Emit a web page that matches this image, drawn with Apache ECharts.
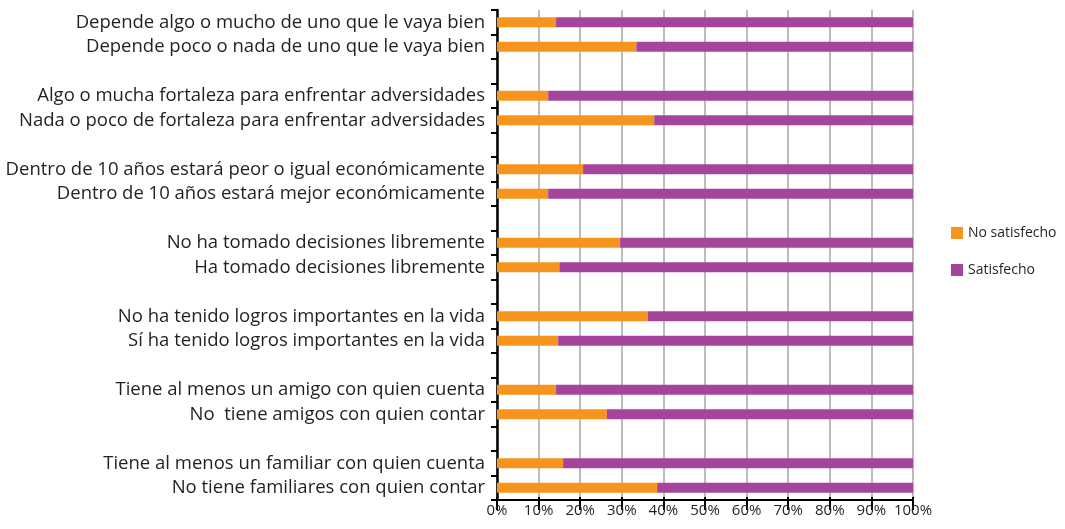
<!DOCTYPE html>
<html lang="es">
<head>
    <meta charset="UTF-8">
    <title>Satisfacción</title>
    <script src="https://cdn.jsdelivr.net/npm/echarts@6/dist/echarts.min.js"></script>
    <style>
        body { margin: 0; background: #fff; }
        #main { width: 1065px; height: 529px; }
    </style>
</head>
<body>
<div id="main"></div>
<script>
    // categorias (de arriba hacia abajo), '' = hueco entre grupos
    var categorias = [
        'Depende algo o mucho de uno que le vaya bien',
        'Depende poco o nada de uno que le vaya bien',
        '',
        'Algo o mucha fortaleza para enfrentar adversidades',
        'Nada o poco de fortaleza para enfrentar adversidades',
        '',
        'Dentro de 10 años estará peor o igual económicamente',
        'Dentro de 10 años estará mejor económicamente',
        '',
        'No ha tomado decisiones libremente',
        'Ha tomado decisiones libremente',
        '',
        'No ha tenido logros importantes en la vida',
        'Sí ha tenido logros importantes en la vida',
        '',
        'Tiene al menos un amigo con quien cuenta',
        'No  tiene amigos con quien contar',
        '',
        'Tiene al menos un familiar con quien cuenta',
        'No tiene familiares con quien contar'
    ];
    var noSatisfecho = [14.2, 33.5, null, 12.3, 37.8, null, 20.7, 12.3, null,
        29.6, 15.0, null, 36.2, 14.7, null, 14.2, 26.4, null, 15.9, 38.5];
    var satisfecho = noSatisfecho.map(function (v) { return v == null ? null : 100 - v; });
    var ticksX = [0, 10, 20, 30, 40, 50, 60, 70, 80, 90, 100];

    var myChart = echarts.init(document.getElementById('main'));
    var option = {
        animation: false,
        textStyle: { fontFamily: 'Open Sans' },
        legend: {
            orient: 'vertical',
            left: 946,
            top: 221,
            itemWidth: 12,
            itemHeight: 12,
            itemGap: 23,
            icon: 'rect',
            textStyle: { fontSize: 14, color: '#231f20' },
            data: ['No satisfecho', 'Satisfecho']
        },
        grid: { left: 497, right: 152, top: 10, bottom: 29, containLabel: false },
        xAxis: [{
            type: 'value',
            min: 0,
            max: 100,
            interval: 10,
            axisLine: { show: true, lineStyle: { color: '#000', width: 2 } },
            axisTick: { show: true, length: 10, lineStyle: { color: '#000', width: 2 } },
            axisLabel: {
                fontSize: 15, color: '#231f20', margin: 3,
                formatter: function (v) { return ticksX.indexOf(v) >= 0 ? v + '%' : ''; }
            },
            splitLine: { show: true, lineStyle: { color: '#a6a6a6', width: 1.5 } }
        }, {
            type: 'value',
            position: 'bottom',
            min: 0,
            max: 100,
            interval: 10,
            axisLine: { show: false },
            axisTick: { show: true, inside: true, length: 3, lineStyle: { color: '#000', width: 2 } },
            axisLabel: { show: false },
            splitLine: { show: false }
        }],
        yAxis: {
            type: 'category',
            inverse: true,
            data: categorias,
            axisLine: { show: true, lineStyle: { color: '#000', width: 2.5 } },
            axisTick: { show: true, length: 6, lineStyle: { color: '#000', width: 2 } },
            axisLabel: { fontSize: 18.5, color: '#231f20', margin: 12, interval: 0 }
        },
        series: [
            {
                name: 'No satisfecho',
                type: 'bar',
                stack: 'total',
                barWidth: 10,
                itemStyle: { color: '#f7941d' },
                data: noSatisfecho
            },
            {
                name: 'Satisfecho',
                type: 'bar',
                stack: 'total',
                barWidth: 10,
                itemStyle: { color: '#a4449a' },
                data: satisfecho
            }
        ]
    };
    myChart.setOption(option);
</script>
</body>
</html>
